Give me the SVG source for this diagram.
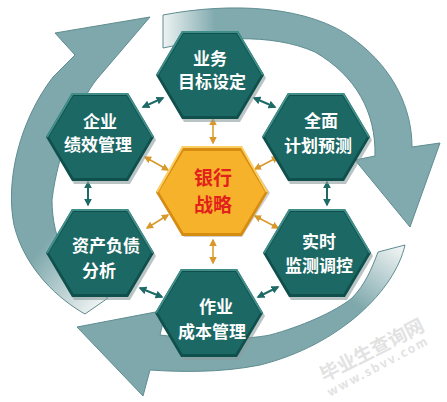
<svg xmlns="http://www.w3.org/2000/svg" width="447" height="402" viewBox="0 0 447 402">
<style>
.ring{stroke:#5f8c90;stroke-width:1;stroke-linejoin:round}
.t{font-family:"Noto Sans CJK SC","Noto Sans",sans-serif;font-weight:bold;font-size:17px;fill:#ffffff;text-anchor:middle}
.c{font-family:"Noto Sans CJK SC","Noto Sans",sans-serif;font-weight:bold;font-size:19px;fill:#e3211b;text-anchor:middle}
.tl{stroke:#1d6a66;stroke-width:2;fill:none;marker-start:url(#mt);marker-end:url(#mt)}
.ol{stroke:#d9982a;stroke-width:1.5;fill:none;marker-start:url(#mo);marker-end:url(#mo)}
.wm{font-family:"Noto Sans CJK SC","Noto Sans",sans-serif;font-weight:bold;fill:#e2e2e2;text-anchor:middle}
</style>
<defs>
<linearGradient id="gA" gradientUnits="userSpaceOnUse" x1="163" y1="0" x2="215" y2="0">
<stop offset="0" stop-color="#eef3f3"/><stop offset="1" stop-color="#80aaae"/>
</linearGradient>
<linearGradient id="gB" gradientUnits="userSpaceOnUse" x1="400" y1="245" x2="355" y2="305">
<stop offset="0" stop-color="#f2f5f5"/><stop offset="1" stop-color="#7ea8ac"/>
</linearGradient>
<linearGradient id="gC" gradientUnits="userSpaceOnUse" x1="100" y1="305" x2="35" y2="255">
<stop offset="0" stop-color="#f0f3f3"/><stop offset="1" stop-color="#7ea8ac"/>
</linearGradient>
<marker id="mt" viewBox="0 0 10 10" refX="8" refY="5" markerWidth="4" markerHeight="4" orient="auto-start-reverse">
<path d="M0,0 L10,5 L0,10 z" fill="#1d6a66"/>
</marker>
<marker id="mo" viewBox="0 0 10 10" refX="8" refY="5" markerWidth="5" markerHeight="5" orient="auto-start-reverse">
<path d="M0,0 L10,5 L0,10 z" fill="#d9982a"/>
</marker>
<polygon id="hs" points="-28,-44 28,-44 54,0 28,44 -28,44 -54,0" fill="#8c9c9c" opacity="0.6"/>
<polygon id="ho" points="-28,-44 28,-44 54,0 28,44 -28,44 -54,0" fill="#0f4f4c"/>
<polygon id="hi" points="-26.5,-41 26.5,-41 51,0 26.5,41 -26.5,41 -51,0" fill="#1c6864"/>
<polyline id="hl" points="-53,0 -27.5,-43 27.5,-43 53,0" fill="none" stroke="#3f8e89" stroke-width="2"/>
</defs>

<g id="ring">
<path class="ring" fill="url(#gA)" d="M163,15 C230,2 310,5 355,40 C395,70 412,110 412,147 L440,143 L410,227 L355,160 L375,156 C376,112 356,76 315,52 C270,32 210,38 163,48 Z"/>
<path class="ring" fill="url(#gB)" d="M405,245 C395,290 340,345 260,365 C220,373 180,372 150,370 L143,396 L77,327 L166,310 L160,335 C200,340 245,340 270,335 C300,327 335,312 352,298 C365,285 372,268 378,252 Z"/>
<path class="ring" fill="url(#gC)" d="M85,314 C60,300 25,270 14,225 C5,180 20,120 53,77 L75,55 L55,33 L150,17 L97,79 C80,100 58,150 52,200 C52,240 70,280 108,298 Z"/>
</g>

<g id="connectors">
<line class="tl" x1="143" y1="107" x2="163" y2="98"/>
<line class="tl" x1="254" y1="98" x2="275" y2="107"/>
<line class="tl" x1="88" y1="182" x2="88" y2="205"/>
<line class="tl" x1="327" y1="182" x2="327" y2="205"/>
<line class="tl" x1="140" y1="288" x2="162" y2="297"/>
<line class="tl" x1="258" y1="297" x2="278" y2="287"/>
<line class="ol" x1="213" y1="119" x2="213" y2="143"/>
<line class="ol" x1="213" y1="240" x2="213" y2="263"/>
<line class="ol" x1="145" y1="157" x2="168" y2="170"/>
<line class="ol" x1="255" y1="169" x2="278" y2="157"/>
<line class="ol" x1="147" y1="228" x2="168" y2="215"/>
<line class="ol" x1="255" y1="216" x2="278" y2="228"/>
</g>

<g id="n-yewu">
<g transform="translate(210,75)"><use href="#hs" x="2" y="3"/><use href="#ho"/><use href="#hi"/><use href="#hl"/></g>
<text class="t" x="210" y="65">业务</text>
<text class="t" x="212" y="88">目标设定</text>
</g>

<g id="n-qiye">
<g transform="translate(100,137)"><use href="#hs" x="2" y="3"/><use href="#ho"/><use href="#hi"/><use href="#hl"/></g>
<text class="t" x="100" y="128">企业</text>
<text class="t" x="98" y="151">绩效管理</text>
</g>

<g id="n-quanmian">
<g transform="translate(316,137)"><use href="#hs" x="2" y="3"/><use href="#ho"/><use href="#hi"/><use href="#hl"/></g>
<text class="t" x="321" y="127">全面</text>
<text class="t" x="318" y="152">计划预测</text>
</g>

<g id="n-zichan">
<g transform="translate(100,253)"><use href="#hs" x="2" y="3"/><use href="#ho"/><use href="#hi"/><use href="#hl"/></g>
<text class="t" x="106" y="252">资产负债</text>
<text class="t" x="99" y="277">分析</text>
</g>

<g id="n-shishi">
<g transform="translate(317,253)"><use href="#hs" x="2" y="3"/><use href="#ho"/><use href="#hi"/><use href="#hl"/></g>
<text class="t" x="319" y="248">实时</text>
<text class="t" x="319" y="272">监测调控</text>
</g>

<g id="n-zuoye">
<g transform="translate(209,313)"><use href="#hs" x="2" y="3"/><use href="#ho"/><use href="#hi"/><use href="#hl"/></g>
<text class="t" x="216" y="313">作业</text>
<text class="t" x="212" y="338">成本管理</text>
</g>

<g id="n-center">
<polygon points="184,149 242,149 270,193 242,237 184,237 156,193" fill="#a0a0a0" opacity="0.5"/>
<polygon points="182,148 242,148 268,192 242,236 182,236 156,192" fill="#d58c10"/>
<polygon points="183.5,151 240.5,151 265,192 240.5,233 183.5,233 159,192" fill="#f7b22c"/>
<polyline points="157,192 182.5,147 241.5,147 267,192" fill="none" stroke="#fbcf63" stroke-width="2"/>
<text class="c" x="213" y="185">银行</text>
<text class="c" x="213" y="212">战略</text>
</g>

<g id="watermark">
<text class="wm" font-size="19" transform="translate(375,356) rotate(-27)">毕业生查询网</text>
<text class="wm" font-size="12" letter-spacing="2" transform="translate(380,370) rotate(-28)">www.sbvv.com</text>
</g>
</svg>
